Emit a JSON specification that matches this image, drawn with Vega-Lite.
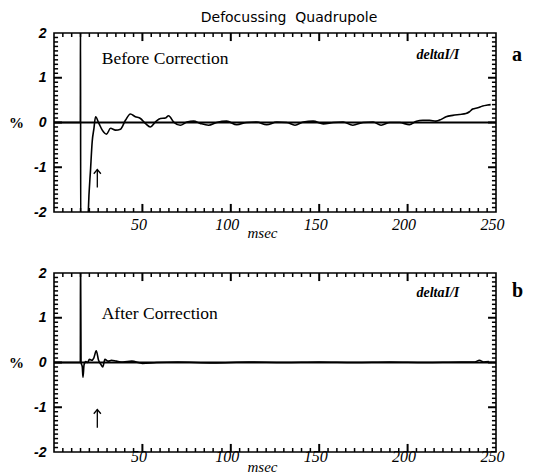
{
  "$schema": "https://vega.github.io/schema/vega-lite/v6.json",
  "background": "white",
  "padding": {"left": 7, "top": 10, "right": 0, "bottom": 0},
  "bounds": "flush",
  "spacing": 61,
  "config": {
    "view": {"stroke": "black", "strokeWidth": 1.6},
    "axis": {"domain": false, "grid": false, "ticks": false, "labelColor": "black", "titleColor": "black"}
  },
  "datasets": {
    "before": [
      {"t":0,"v":0},{"t":14.9,"v":0},{"t":15,"v":2.6},{"t":15.1,"v":-2.6},{"t":19.0,"v":-2.6},{"t":19.4,"v":-2.0},{"t":20.7,"v":-1.03},{"t":21.6,"v":-0.43},{"t":22.6,"v":-0.13},{"t":23.5,"v":0.13},{"t":25.4,"v":-0.02},{"t":27.3,"v":-0.17},{"t":29.7,"v":-0.26},{"t":32,"v":-0.13},{"t":34.8,"v":-0.17},{"t":37.6,"v":-0.15},{"t":40.4,"v":0.05},{"t":43.2,"v":0.19},{"t":46,"v":0.13},{"t":48.9,"v":0.09},{"t":51.7,"v":-0.02},{"t":54.5,"v":-0.1},{"t":57.3,"v":0.01},{"t":60.2,"v":0.09},{"t":63,"v":0.1},{"t":64.8,"v":0.15},{"t":67.7,"v":0.01},{"t":71.4,"v":-0.06},{"t":75.2,"v":0.01},{"t":79,"v":0.03},{"t":82.7,"v":-0.02},{"t":87.4,"v":-0.06},{"t":92,"v":0},{"t":97.7,"v":0.03},{"t":103.4,"v":-0.05},{"t":109,"v":0},{"t":114.7,"v":0.01},{"t":120.3,"v":-0.05},{"t":126,"v":0.01},{"t":131.6,"v":0},{"t":136.3,"v":-0.06},{"t":141,"v":0.01},{"t":146.6,"v":0.03},{"t":152.3,"v":-0.03},{"t":158,"v":0},{"t":163.5,"v":0.01},{"t":169,"v":-0.06},{"t":174.8,"v":0},{"t":180.5,"v":0.01},{"t":185,"v":-0.06},{"t":190,"v":0},{"t":195.5,"v":0},{"t":201,"v":-0.05},{"t":205,"v":0.03},{"t":208.6,"v":0.05},{"t":212.4,"v":0.05},{"t":216,"v":0.03},{"t":219,"v":0.07},{"t":221.8,"v":0.13},{"t":225.6,"v":0.16},{"t":229.3,"v":0.18},{"t":233,"v":0.2},{"t":235,"v":0.24},{"t":236.8,"v":0.3},{"t":239.7,"v":0.33},{"t":242.5,"v":0.37},{"t":245.3,"v":0.39},{"t":247,"v":0.4}
    ],
    "after": [
      {"t":0,"v":0},{"t":14.9,"v":0},{"t":15,"v":2.6},{"t":15.3,"v":0},{"t":16.0,"v":-0.1},{"t":16.4,"v":-0.33},{"t":17,"v":-0.05},{"t":18,"v":0.02},{"t":19,"v":0.0},{"t":20,"v":0.07},{"t":21.4,"v":0.05},{"t":22.5,"v":0.1},{"t":23.9,"v":0.26},{"t":25.2,"v":0.05},{"t":26.5,"v":-0.04},{"t":27.6,"v":-0.1},{"t":28.8,"v":0.07},{"t":30.7,"v":0.03},{"t":32.5,"v":0.05},{"t":35.3,"v":0.03},{"t":39,"v":0.01},{"t":44,"v":0.03},{"t":50,"v":-0.02},{"t":58,"v":0},{"t":70,"v":0.01},{"t":90,"v":-0.01},{"t":110,"v":0.01},{"t":130,"v":0},{"t":150,"v":0.01},{"t":170,"v":0},{"t":190,"v":0.01},{"t":210,"v":0},{"t":230,"v":0.01},{"t":238,"v":0.01},{"t":240.6,"v":0.05},{"t":243,"v":0.01},{"t":246,"v":0.02}
    ],
    "yminor": [{"v":-1.9},{"v":-1.8},{"v":-1.7},{"v":-1.6},{"v":-1.5},{"v":-1.4},{"v":-1.3},{"v":-1.2},{"v":-1.1},{"v":-0.9},{"v":-0.8},{"v":-0.7},{"v":-0.6},{"v":-0.5},{"v":-0.4},{"v":-0.3},{"v":-0.2},{"v":-0.1},{"v":0.1},{"v":0.2},{"v":0.3},{"v":0.4},{"v":0.5},{"v":0.6},{"v":0.7},{"v":0.8},{"v":0.9},{"v":1.1},{"v":1.2},{"v":1.3},{"v":1.4},{"v":1.5},{"v":1.6},{"v":1.7},{"v":1.8},{"v":1.9}],
    "ymajor": [{"v":-1},{"v":0},{"v":1}],
    "xminor": [{"t":5},{"t":10},{"t":15},{"t":20},{"t":25},{"t":30},{"t":35},{"t":40},{"t":45},{"t":55},{"t":60},{"t":65},{"t":70},{"t":75},{"t":80},{"t":85},{"t":90},{"t":95},{"t":105},{"t":110},{"t":115},{"t":120},{"t":125},{"t":130},{"t":135},{"t":140},{"t":145},{"t":155},{"t":160},{"t":165},{"t":170},{"t":175},{"t":180},{"t":185},{"t":190},{"t":195},{"t":205},{"t":210},{"t":215},{"t":220},{"t":225},{"t":230},{"t":235},{"t":240},{"t":245}],
    "xmajor": [{"t":50},{"t":100},{"t":150},{"t":200}]
  },
  "vconcat": [
    {
      "width": 442,
      "height": 179,
      "title": {"text": "Defocussing\u00a0\u00a0Quadrupole", "font": "DejaVu Sans", "fontSize": 14, "fontWeight": "normal", "offset": 1, "dx": 14, "anchor": "middle", "frame": "group", "color": "black"},
      "resolve": {"axis": {"x": "independent", "y": "independent"}},
      "layer": [
        {
          "data": {"name": "before"},
          "mark": {"type": "line", "color": "black", "strokeWidth": 1.6, "clip": true, "interpolate": "monotone"},
          "encoding": {
            "x": {"field": "t", "type": "quantitative", "scale": {"domain": [0, 250], "nice": false, "zero": false},
              "axis": {"orient": "bottom", "values": [50,100,150,200,250], "ticks": false,
                "labelPadding": 4, "labelOffset": -4, "labelFont": "Liberation Serif", "labelFontStyle": "italic", "labelFontSize": 16,
                "labelFlush": false, "labelOverlap": false, "labelBound": false,
                "title": "msec", "titleFont": "Liberation Serif", "titleFontStyle": "italic", "titleFontSize": 15, "titleFontWeight": "normal",
                "titleX": 208, "titleY": 20, "titleBaseline": "middle", "titleAlign": "center"}},
            "y": {"field": "v", "type": "quantitative", "scale": {"domain": [-2, 2], "nice": false},
              "axis": {"orient": "left", "values": [-2,-1,0,1,2], "ticks": false,
                "labelExpr": "'' + datum.value",
                "labelPadding": 8, "labelFont": "Liberation Sans", "labelFontSize": 14, "labelFontWeight": "bold", "labelFontStyle": "italic",
                "labelOverlap": false, "labelBound": false, "labelFlush": false,
                "title": "%", "titleAngle": 0, "titleX": -38, "titleY": 89.5, "titleAlign": "center", "titleBaseline": "middle",
                "titleFont": "Liberation Serif", "titleFontSize": 15, "titleFontWeight": "bold"}}
          }
        },
        {
          "data": {"values": [{}]},
          "mark": {"type": "rule", "color": "black", "strokeWidth": 2},
          "encoding": {"x": {"datum": 0, "type": "quantitative", "axis": null}, "x2": {"datum": 250}, "y": {"datum": 0, "type": "quantitative", "axis": null}}
        },
        {
          "data": {"name": "yminor"},
          "mark": {"type": "rule", "stroke": "#000000", "strokeWidth": 1.5, "strokeCap": "butt", "opacity": 1},
          "encoding": {"y": {"field": "v", "type": "quantitative", "axis": null}, "x": {"datum": 0, "type": "quantitative", "axis": null}, "x2": {"datum": 2.3}}
        },
        {
          "data": {"name": "yminor"},
          "mark": {"type": "rule", "stroke": "#000000", "strokeWidth": 1.5, "strokeCap": "butt", "opacity": 1},
          "encoding": {"y": {"field": "v", "type": "quantitative", "axis": null}, "x": {"datum": 247.7, "type": "quantitative", "axis": null}, "x2": {"datum": 250}}
        },
        {
          "data": {"name": "ymajor"},
          "mark": {"type": "rule", "stroke": "#000000", "strokeWidth": 2, "strokeCap": "butt", "opacity": 1},
          "encoding": {"y": {"field": "v", "type": "quantitative", "axis": null}, "x": {"datum": 0, "type": "quantitative", "axis": null}, "x2": {"datum": 4.5}}
        },
        {
          "data": {"name": "ymajor"},
          "mark": {"type": "rule", "stroke": "#000000", "strokeWidth": 2, "strokeCap": "butt", "opacity": 1},
          "encoding": {"y": {"field": "v", "type": "quantitative", "axis": null}, "x": {"datum": 245.5, "type": "quantitative", "axis": null}, "x2": {"datum": 250}}
        },
        {
          "data": {"name": "xminor"},
          "mark": {"type": "rule", "stroke": "#000000", "strokeWidth": 1.5, "strokeCap": "butt", "opacity": 1},
          "encoding": {"x": {"field": "t", "type": "quantitative", "axis": null}, "y": {"datum": -2, "type": "quantitative", "axis": null}, "y2": {"datum": -1.91}}
        },
        {
          "data": {"name": "xminor"},
          "mark": {"type": "rule", "stroke": "#000000", "strokeWidth": 1.5, "strokeCap": "butt", "opacity": 1},
          "encoding": {"x": {"field": "t", "type": "quantitative", "axis": null}, "y": {"datum": 2, "type": "quantitative", "axis": null}, "y2": {"datum": 1.91}}
        },
        {
          "data": {"name": "xmajor"},
          "mark": {"type": "rule", "stroke": "#000000", "strokeWidth": 2, "strokeCap": "butt", "opacity": 1},
          "encoding": {"x": {"field": "t", "type": "quantitative", "axis": null}, "y": {"datum": -2, "type": "quantitative", "axis": null}, "y2": {"datum": -1.82}}
        },
        {
          "data": {"name": "xmajor"},
          "mark": {"type": "rule", "stroke": "#000000", "strokeWidth": 2, "strokeCap": "butt", "opacity": 1},
          "encoding": {"x": {"field": "t", "type": "quantitative", "axis": null}, "y": {"datum": 2, "type": "quantitative", "axis": null}, "y2": {"datum": 1.82}}
        },
        {
          "data": {"values": [{"t": 27, "v": 1.42, "s": "Before Correction"}]},
          "mark": {"type": "text", "font": "Liberation Serif", "fontSize": 17.5, "align": "left", "baseline": "middle", "color": "black"},
          "encoding": {"x": {"field": "t", "type": "quantitative", "axis": null}, "y": {"field": "v", "type": "quantitative", "axis": null}, "text": {"field": "s"}}
        },
        {
          "data": {"values": [{"t": 205, "v": 1.5, "s": "deltaI/I"}]},
          "mark": {"type": "text", "font": "Liberation Serif", "fontSize": 14, "fontStyle": "italic", "fontWeight": "bold", "align": "left", "baseline": "middle", "color": "black"},
          "encoding": {"x": {"field": "t", "type": "quantitative", "axis": null}, "y": {"field": "v", "type": "quantitative", "axis": null}, "text": {"field": "s"}}
        },
        {
          "data": {"values": [{"t": 259, "v": 1.5, "s": "a"}]},
          "mark": {"type": "text", "font": "Liberation Serif", "fontSize": 20, "fontWeight": "bold", "align": "left", "baseline": "middle", "color": "black", "clip": false},
          "encoding": {"x": {"field": "t", "type": "quantitative", "axis": null}, "y": {"field": "v", "type": "quantitative", "axis": null}, "text": {"field": "s"}}
        },
        {
          "data": {"values": [{"t": 24.5, "v": -1.45, "v2": -1.05}]},
          "mark": {"type": "rule", "color": "black", "strokeWidth": 1.3},
          "encoding": {"x": {"field": "t", "type": "quantitative", "axis": null}, "y": {"field": "v", "type": "quantitative", "axis": null}, "y2": {"field": "v2"}}
        },
        {
          "data": {"values": [{"t": 24.5, "v": -1.05}]},
          "mark": {"type": "point", "shape": "M-1,1.2L0,0L1,1.2", "filled": false, "size": 50, "color": "black", "strokeWidth": 1.3, "opacity": 1},
          "encoding": {"x": {"field": "t", "type": "quantitative", "axis": null}, "y": {"field": "v", "type": "quantitative", "axis": null}}
        }
      ]
    },
    {
      "width": 442,
      "height": 179,
      "resolve": {"axis": {"x": "independent", "y": "independent"}},
      "layer": [
        {
          "data": {"name": "after"},
          "mark": {"type": "line", "color": "black", "strokeWidth": 1.6, "clip": true, "interpolate": "monotone"},
          "encoding": {
            "x": {"field": "t", "type": "quantitative", "scale": {"domain": [0, 250], "nice": false, "zero": false},
              "axis": {"orient": "bottom", "values": [50,100,150,200,250], "ticks": false,
                "labelPadding": -4, "labelOffset": -4, "labelFont": "Liberation Serif", "labelFontStyle": "italic", "labelFontSize": 16,
                "labelFlush": false, "labelOverlap": false, "labelBound": false,
                "title": "msec", "titleFont": "Liberation Serif", "titleFontStyle": "italic", "titleFontSize": 15, "titleFontWeight": "normal",
                "titleX": 208, "titleY": 14, "titleBaseline": "middle", "titleAlign": "center"}},
            "y": {"field": "v", "type": "quantitative", "scale": {"domain": [-2, 2], "nice": false},
              "axis": {"orient": "left", "values": [-2,-1,0,1,2], "ticks": false,
                "labelExpr": "'' + datum.value",
                "labelPadding": 8, "labelFont": "Liberation Sans", "labelFontSize": 14, "labelFontWeight": "bold", "labelFontStyle": "italic",
                "labelOverlap": false, "labelBound": false, "labelFlush": false,
                "title": "%", "titleAngle": 0, "titleX": -38, "titleY": 89.5, "titleAlign": "center", "titleBaseline": "middle",
                "titleFont": "Liberation Serif", "titleFontSize": 15, "titleFontWeight": "bold"}}
          }
        },
        {
          "data": {"values": [{}]},
          "mark": {"type": "rule", "color": "black", "strokeWidth": 2},
          "encoding": {"x": {"datum": 0, "type": "quantitative", "axis": null}, "x2": {"datum": 250}, "y": {"datum": 0, "type": "quantitative", "axis": null}}
        },
        {
          "data": {"name": "yminor"},
          "mark": {"type": "rule", "stroke": "#000000", "strokeWidth": 1.5, "strokeCap": "butt", "opacity": 1},
          "encoding": {"y": {"field": "v", "type": "quantitative", "axis": null}, "x": {"datum": 0, "type": "quantitative", "axis": null}, "x2": {"datum": 2.3}}
        },
        {
          "data": {"name": "yminor"},
          "mark": {"type": "rule", "stroke": "#000000", "strokeWidth": 1.5, "strokeCap": "butt", "opacity": 1},
          "encoding": {"y": {"field": "v", "type": "quantitative", "axis": null}, "x": {"datum": 247.7, "type": "quantitative", "axis": null}, "x2": {"datum": 250}}
        },
        {
          "data": {"name": "ymajor"},
          "mark": {"type": "rule", "stroke": "#000000", "strokeWidth": 2, "strokeCap": "butt", "opacity": 1},
          "encoding": {"y": {"field": "v", "type": "quantitative", "axis": null}, "x": {"datum": 0, "type": "quantitative", "axis": null}, "x2": {"datum": 4.5}}
        },
        {
          "data": {"name": "ymajor"},
          "mark": {"type": "rule", "stroke": "#000000", "strokeWidth": 2, "strokeCap": "butt", "opacity": 1},
          "encoding": {"y": {"field": "v", "type": "quantitative", "axis": null}, "x": {"datum": 245.5, "type": "quantitative", "axis": null}, "x2": {"datum": 250}}
        },
        {
          "data": {"name": "xminor"},
          "mark": {"type": "rule", "stroke": "#000000", "strokeWidth": 1.5, "strokeCap": "butt", "opacity": 1},
          "encoding": {"x": {"field": "t", "type": "quantitative", "axis": null}, "y": {"datum": -2, "type": "quantitative", "axis": null}, "y2": {"datum": -1.91}}
        },
        {
          "data": {"name": "xminor"},
          "mark": {"type": "rule", "stroke": "#000000", "strokeWidth": 1.5, "strokeCap": "butt", "opacity": 1},
          "encoding": {"x": {"field": "t", "type": "quantitative", "axis": null}, "y": {"datum": 2, "type": "quantitative", "axis": null}, "y2": {"datum": 1.91}}
        },
        {
          "data": {"name": "xmajor"},
          "mark": {"type": "rule", "stroke": "#000000", "strokeWidth": 2, "strokeCap": "butt", "opacity": 1},
          "encoding": {"x": {"field": "t", "type": "quantitative", "axis": null}, "y": {"datum": -2, "type": "quantitative", "axis": null}, "y2": {"datum": -1.82}}
        },
        {
          "data": {"name": "xmajor"},
          "mark": {"type": "rule", "stroke": "#000000", "strokeWidth": 2, "strokeCap": "butt", "opacity": 1},
          "encoding": {"x": {"field": "t", "type": "quantitative", "axis": null}, "y": {"datum": 2, "type": "quantitative", "axis": null}, "y2": {"datum": 1.82}}
        },
        {
          "data": {"values": [{"t": 27, "v": 1.08, "s": "After Correction"}]},
          "mark": {"type": "text", "font": "Liberation Serif", "fontSize": 17.5, "align": "left", "baseline": "middle", "color": "black"},
          "encoding": {"x": {"field": "t", "type": "quantitative", "axis": null}, "y": {"field": "v", "type": "quantitative", "axis": null}, "text": {"field": "s"}}
        },
        {
          "data": {"values": [{"t": 205, "v": 1.56, "s": "deltaI/I"}]},
          "mark": {"type": "text", "font": "Liberation Serif", "fontSize": 14, "fontStyle": "italic", "fontWeight": "bold", "align": "left", "baseline": "middle", "color": "black"},
          "encoding": {"x": {"field": "t", "type": "quantitative", "axis": null}, "y": {"field": "v", "type": "quantitative", "axis": null}, "text": {"field": "s"}}
        },
        {
          "data": {"values": [{"t": 259, "v": 1.6, "s": "b"}]},
          "mark": {"type": "text", "font": "Liberation Serif", "fontSize": 20, "fontWeight": "bold", "align": "left", "baseline": "middle", "color": "black", "clip": false},
          "encoding": {"x": {"field": "t", "type": "quantitative", "axis": null}, "y": {"field": "v", "type": "quantitative", "axis": null}, "text": {"field": "s"}}
        },
        {
          "data": {"values": [{"t": 24.5, "v": -1.46, "v2": -1.05}]},
          "mark": {"type": "rule", "color": "black", "strokeWidth": 1.3},
          "encoding": {"x": {"field": "t", "type": "quantitative", "axis": null}, "y": {"field": "v", "type": "quantitative", "axis": null}, "y2": {"field": "v2"}}
        },
        {
          "data": {"values": [{"t": 24.5, "v": -1.05}]},
          "mark": {"type": "point", "shape": "M-1,1.2L0,0L1,1.2", "filled": false, "size": 50, "color": "black", "strokeWidth": 1.3, "opacity": 1},
          "encoding": {"x": {"field": "t", "type": "quantitative", "axis": null}, "y": {"field": "v", "type": "quantitative", "axis": null}}
        }
      ]
    }
  ]
}
